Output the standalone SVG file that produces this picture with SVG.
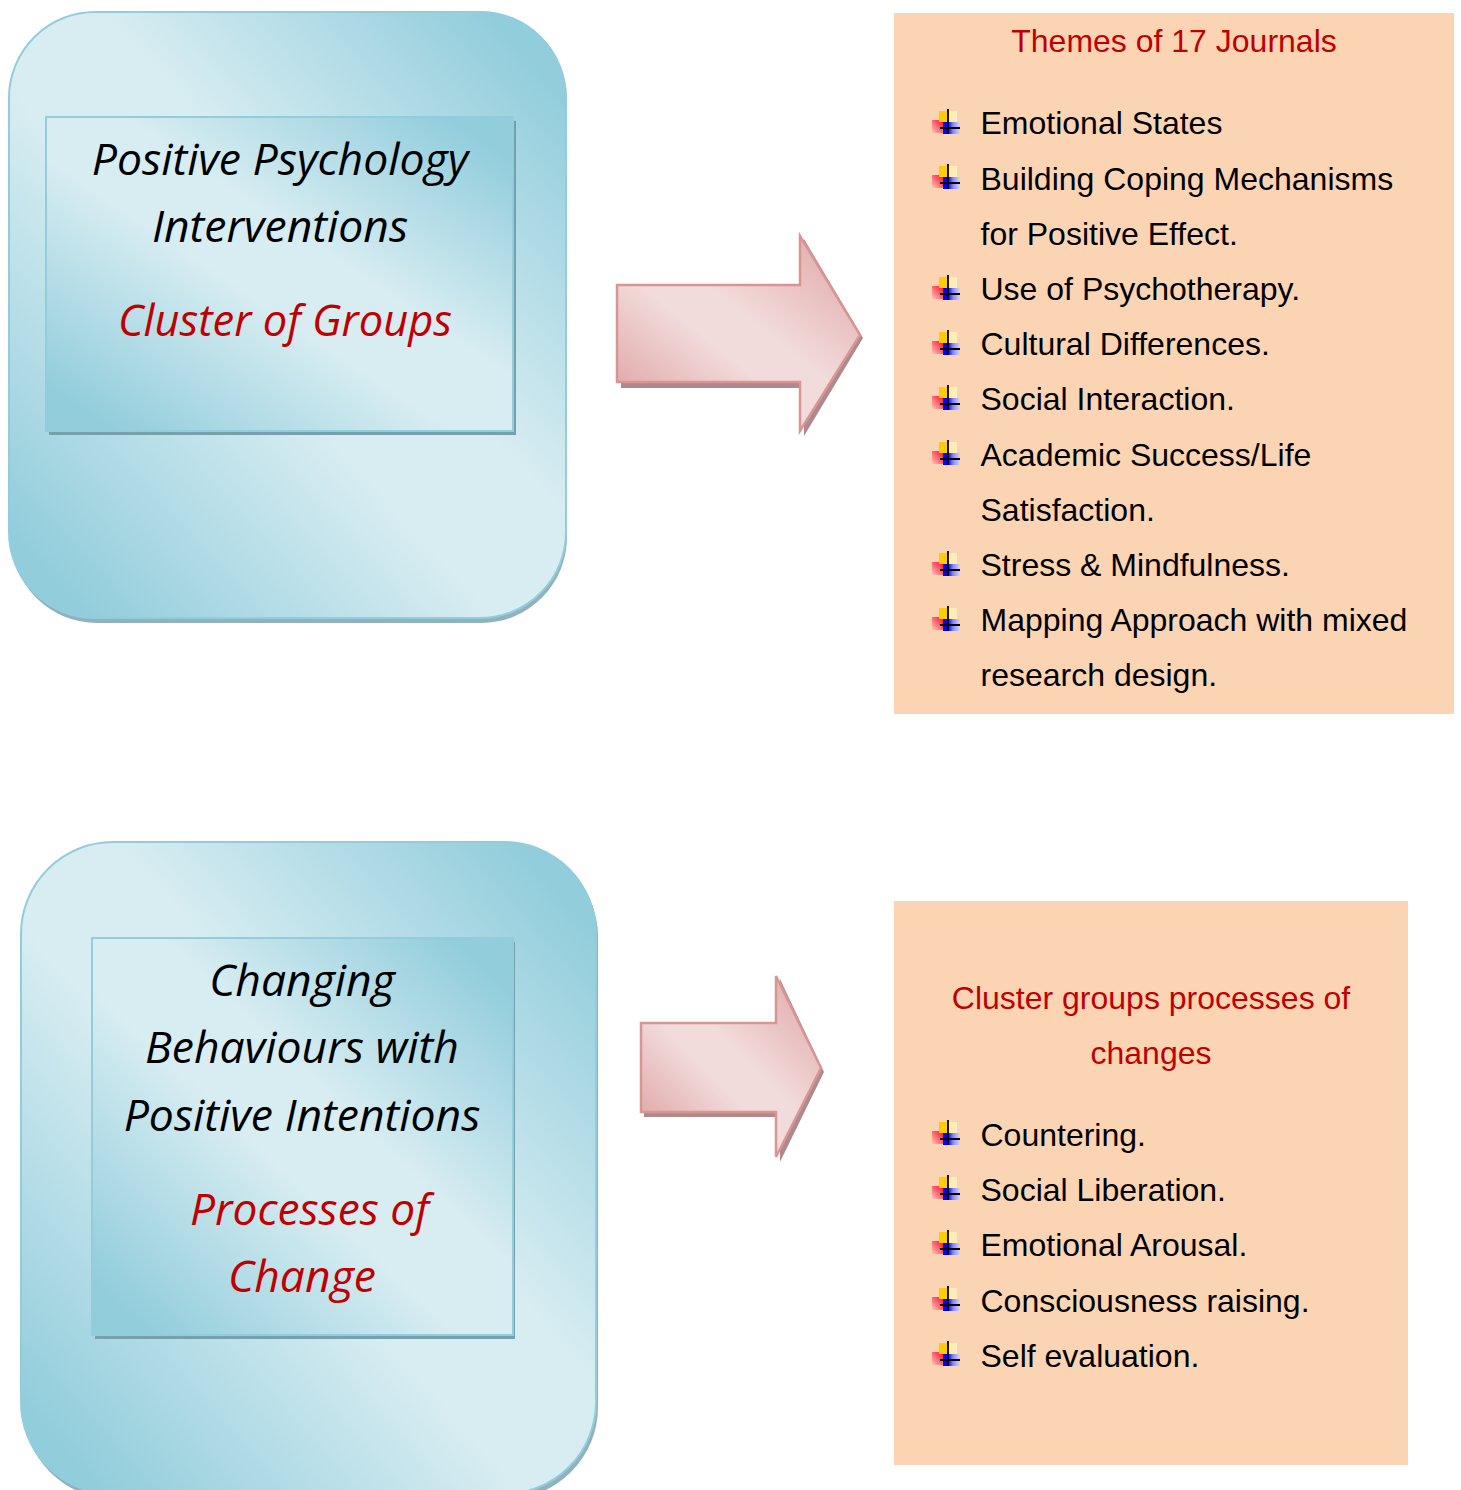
<svg xmlns="http://www.w3.org/2000/svg" xmlns:xlink="http://www.w3.org/1999/xlink" width="1461" height="1490" viewBox="0 0 1461 1490">
<style>
.blue{fill:url(#gBlue);stroke:#92cddc;stroke-width:2}
.blueShadow{fill:#76a0ac}
.bigShadow{fill:#8fb2bc}
.pink{fill:url(#gPink);stroke:#d99594;stroke-width:2.5}
.pinkShadow{fill:#ae8a8a}
.peach{fill:#fbd4b4}
.it{font-family:"Open Sans","Noto Sans",sans-serif;font-style:italic;font-size:44.5px;text-anchor:middle;fill:#000}
.red{fill:#c00000}
.li{font-family:"Liberation Sans",Arial,sans-serif;font-size:32px;fill:#000}
.ti{font-family:"Liberation Sans",Arial,sans-serif;font-size:32px;fill:#c00000;text-anchor:middle}
</style>
<defs>
<linearGradient id="gBlue" x1="1" y1="0" x2="0" y2="1">
<stop offset="0.07" stop-color="#92cddc"/><stop offset="0.42" stop-color="#d8edf2"/><stop offset="0.56" stop-color="#d8edf2"/><stop offset="0.93" stop-color="#92cddc"/>
</linearGradient>
<linearGradient id="gPink" x1="1" y1="0" x2="0" y2="1">
<stop offset="0.1" stop-color="#e3b0af"/><stop offset="0.44" stop-color="#f2dbdb"/><stop offset="0.58" stop-color="#f2dbdb"/><stop offset="0.92" stop-color="#dfa5a5"/>
</linearGradient>
<linearGradient id="bRed" x1="1" y1="0" x2="0" y2="1"><stop offset="0.1" stop-color="#ff2040"/><stop offset="0.55" stop-color="#ff7078"/><stop offset="1" stop-color="#ffc8b8"/></linearGradient>
<linearGradient id="bBlue" x1="0" y1="0" x2="1" y2="0"><stop offset="0.3" stop-color="#0000ff"/><stop offset="0.6" stop-color="#8a8aff"/><stop offset="1" stop-color="#dcd4f4"/></linearGradient>
<linearGradient id="bPale" x1="0" y1="0" x2="1" y2="0"><stop offset="0" stop-color="#ffe9a0"/><stop offset="1" stop-color="#fff0c4"/></linearGradient>
<filter id="soft" x="-10%" y="-10%" width="120%" height="120%"><feGaussianBlur stdDeviation="0.5"/></filter>
<g id="bullet">
<g filter="url(#soft)">
<rect x="932" y="120" width="11" height="13" fill="url(#bRed)"/>
<rect x="939" y="111" width="9" height="11" fill="#ffcc00"/>
<rect x="948" y="111" width="9" height="11" fill="url(#bPale)"/>
<rect x="943" y="122" width="17" height="12" fill="url(#bBlue)"/>
</g>
<path d="M948 109V134M940 128H960" stroke="#000" stroke-width="1.8" fill="none"/>
</g>
</defs>
<rect width="1461" height="1490" fill="#fff"/>

<g id="node-positive-psychology">
<rect class="bigShadow" x="11" y="15" width="556" height="608" rx="86"/>
<rect class="blue" x="9" y="12" width="557" height="606" rx="86"/>
<rect class="blueShadow" x="49" y="121" width="467" height="314"/>
<rect class="blue" x="46" y="117" width="467" height="314"/>
<text class="it" x="280" y="174.500">Positive Psychology</text>
<text class="it" x="280" y="241.500">Interventions</text>
<text class="it red" x="285" y="335.500" textLength="334" lengthAdjust="spacingAndGlyphs">Cluster of Groups</text>
</g>

<g id="node-changing-behaviours">
<rect class="bigShadow" x="23" y="845" width="575" height="654" rx="92"/>
<rect class="blue" x="21" y="842" width="575" height="652" rx="92"/>
<rect class="blueShadow" x="95" y="942" width="420" height="397"/>
<rect class="blue" x="92" y="938" width="421" height="397"/>
<text class="it" x="302" y="995.500">Changing</text>
<text class="it" x="302" y="1062.500">Behaviours with</text>
<text class="it" x="302" y="1130.500">Positive Intentions</text>
<text class="it red" x="309.500" y="1224.500" textLength="239" lengthAdjust="spacingAndGlyphs">Processes of</text>
<text class="it red" x="302" y="1291.500">Change</text>
</g>

<g id="connectors">
<path class="pinkShadow" d="M621 289H804V239L863 338L804 436V388H621Z"/>
<path class="pink" d="M617 285H800V236L860 335L800 431V382H617Z"/>
<path class="pinkShadow" d="M644 1027H780V979L824 1072L780 1162V1117H644Z"/>
<path class="pink" d="M641 1023H776V976L821 1068L776 1157V1112H641Z"/>
</g>

<g id="node-themes">
<rect class="peach" x="894" y="13" width="560" height="701"/>
<text class="ti" x="1174" y="51.500">Themes of 17 Journals</text>
<use xlink:href="#bullet" href="#bullet" y="0"/>
<use xlink:href="#bullet" href="#bullet" y="55"/>
<use xlink:href="#bullet" href="#bullet" y="166"/>
<use xlink:href="#bullet" href="#bullet" y="221"/>
<use xlink:href="#bullet" href="#bullet" y="276"/>
<use xlink:href="#bullet" href="#bullet" y="331"/>
<use xlink:href="#bullet" href="#bullet" y="442"/>
<use xlink:href="#bullet" href="#bullet" y="497"/>
<text class="li" x="980.500" y="133.500">Emotional States</text>
<text class="li" x="980.500" y="189.500">Building Coping Mechanisms</text>
<text class="li" x="980.500" y="244.500">for Positive Effect.</text>
<text class="li" x="980.500" y="299.500">Use of Psychotherapy.</text>
<text class="li" x="980.500" y="354.500">Cultural Differences.</text>
<text class="li" x="980.500" y="409.500">Social Interaction.</text>
<text class="li" x="980.500" y="465.500">Academic Success/Life</text>
<text class="li" x="980.500" y="520.500">Satisfaction.</text>
<text class="li" x="980.500" y="575.500">Stress &amp; Mindfulness.</text>
<text class="li" x="980.500" y="630.500">Mapping Approach with mixed</text>
<text class="li" x="980.500" y="685.500">research design.</text>
</g>

<g id="node-processes">
<rect class="peach" x="894" y="901" width="514" height="564"/>
<text class="ti" x="1151" y="1008.500">Cluster groups processes of</text>
<text class="ti" x="1151" y="1063.500">changes</text>
<use xlink:href="#bullet" href="#bullet" y="1011"/>
<use xlink:href="#bullet" href="#bullet" y="1066"/>
<use xlink:href="#bullet" href="#bullet" y="1121"/>
<use xlink:href="#bullet" href="#bullet" y="1177"/>
<use xlink:href="#bullet" href="#bullet" y="1232"/>
<text class="li" x="980.500" y="1145.500">Countering.</text>
<text class="li" x="980.500" y="1200.500">Social Liberation.</text>
<text class="li" x="980.500" y="1255.500">Emotional Arousal.</text>
<text class="li" x="980.500" y="1311.500">Consciousness raising.</text>
<text class="li" x="980.500" y="1366.500">Self evaluation.</text>
</g>
</svg>
